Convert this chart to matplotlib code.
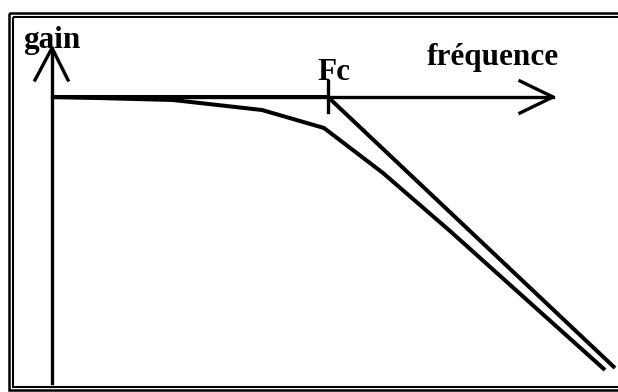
import matplotlib
matplotlib.use("Agg")
from matplotlib import pyplot as plt
from matplotlib.patches import Rectangle

# schematic Bode plot, coordinates in picture units (x right, y down)
freq_real = [52, 98, 173, 262, 324, 383, 450, 605]
gain_real = [97, 98, 100, 110, 128, 173, 231, 370]

fc = 328
freq_asym = [52, fc, 615]
gain_asym = [97, 97, 368]

axis_x = [52, 553]
axis_y = [383, 48]

labels = {"gain": (23, 48), "fréquence": (427, 65), "Fc": (317, 80)}

fig = plt.figure(figsize=(6.18, 3.92), dpi=100)
ax = fig.add_axes([0, 0, 1, 1])
ax.set_xlim(0, 618)
ax.set_ylim(392, 0)
ax.axis("off")

# double frame
ax.add_patch(Rectangle((9, 13), 618, 377, fill=False, lw=1.8, ec="black"))
ax.add_patch(Rectangle((13, 17), 618, 370, fill=False, lw=1.5, ec="black"))

# axes with open arrowheads
ax.plot([axis_x[0], axis_x[0]], axis_y, color="black", lw=2.4)
ax.plot([35, axis_x[0], 68], [80, axis_y[1], 80], color="black", lw=2.4)
ax.plot(axis_x, [97, 97], color="black", lw=2.4)
ax.plot([520, axis_x[1], 520], [81, 97, 113], color="black", lw=2.4)

# Fc tick
ax.plot([fc, fc], [81, 112], color="black", lw=2.4)

ax.plot(freq_asym, gain_asym, color="black", lw=2.9, solid_capstyle="butt")
ax.plot(freq_real, gain_real, color="black", lw=2.9, solid_capstyle="butt")

for txt, (x, y) in labels.items():
    ax.text(x, y, txt, family="Liberation Serif", weight="bold",
            fontsize=22.5, ha="left", va="baseline")

fig.savefig("out.png", dpi=100)
